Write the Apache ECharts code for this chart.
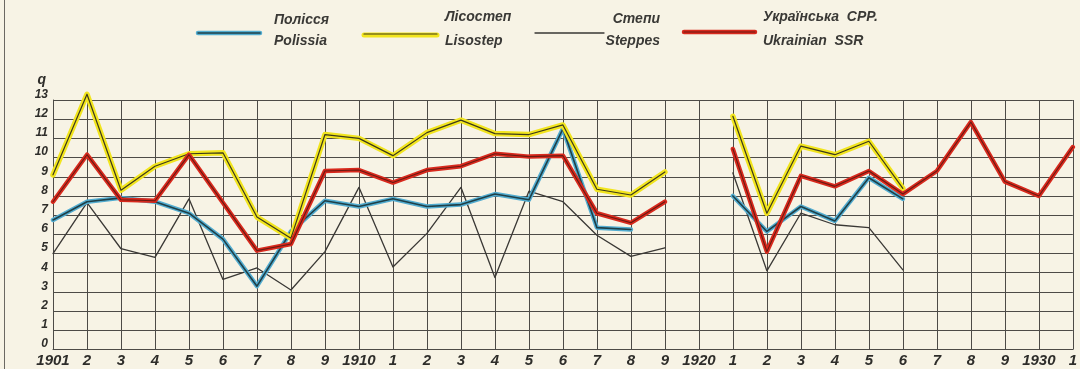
<!DOCTYPE html>
<html>
<head>
<meta charset="utf-8">
<title>Врожайність / Yields, 1901–1931</title>
<script src="https://cdn.jsdelivr.net/npm/echarts@6/dist/echarts.min.js"></script>
<style>
  html, body { margin: 0; padding: 0; background: #f7f3e5; }
  #chart { width: 1080px; height: 369px; }
</style>
</head>
<body>
<div id="chart"></div>
<script>
// Years on the category axis and the short labels printed under them
const years = ['1901','1902','1903','1904','1905','1906','1907','1908','1909','1910',
               '1911','1912','1913','1914','1915','1916','1917','1918','1919','1920',
               '1921','1922','1923','1924','1925','1926','1927','1928','1929','1930','1931'];
const tickLabels = ['1901','2','3','4','5','6','7','8','9','1910',
                    '1','2','3','4','5','6','7','8','9','1920',
                    '1','2','3','4','5','6','7','8','9','1930','1'];

// Yield, q per hectare (null = no data)
const polissia = [6.75, 7.7, 7.9, 7.7, 7.1, 5.75, 3.3, 6.15, 7.75, 7.45,
                  7.85, 7.45, 7.55, 8.1, 7.8, 11.5, 6.35, 6.25, null, null,
                  8.0, 6.15, 7.45, 6.7, 8.95, 7.85, null, null, null, null, null];
const lisostep = [9.1, 13.3, 8.3, 9.55, 10.2, 10.25, 6.9, 5.8, 11.2, 11.0,
                  10.1, 11.3, 11.95, 11.25, 11.2, 11.7, 8.35, 8.05, 9.25, null,
                  12.15, 7.1, 10.6, 10.15, 10.85, 8.4, null, null, null, null, null];
const steppes  = [5.0, 7.65, 5.25, 4.8, 7.85, 3.65, 4.25, 3.1, 5.1, 8.45,
                  4.3, 6.05, 8.45, 3.75, 8.25, 7.7, 5.95, 4.85, 5.3, null,
                  9.2, 4.1, 7.1, 6.5, 6.35, 4.15, null, null, null, null, null];
const ukrSSR   = [7.7, 10.15, 7.8, 7.75, 10.15, 7.65, 5.15, 5.5, 9.3, 9.35,
                  8.7, 9.35, 9.55, 10.2, 10.05, 10.1, 7.1, 6.6, 7.7, null,
                  10.45, 5.1, 9.05, 8.5, 9.3, 8.1, 9.3, 11.85, 8.75, 8.0, 10.55];

const INK = '#2e2d2a';
const GRIDC = '#4d4b47';
const YELLOW = '#f2e51e';
const RED = '#d8291d';
const BLUE = '#52acd0';

// colour band of a line, printed under a thin dark stroke
function band(name, data, color, width, z) {
  return {
    name: name, type: 'line', data: data, symbol: 'none', clip: false,
    connectNulls: false, silent: true, z: z,
    lineStyle: { color: color, width: width, join: 'round', cap: 'round' }
  };
}
function stroke(name, data, color, width, z) {
  return {
    name: name, type: 'line', data: data, symbol: 'none', clip: false,
    connectNulls: false, silent: true, z: z,
    lineStyle: { color: color, width: width, join: 'round', cap: 'round' }
  };
}

const legendFont = 'italic bold 14px "Liberation Sans"';
function keyLine(x1, x2, y, color, width, z) {
  return { type: 'line', z: z, shape: { x1: x1, y1: y, x2: x2, y2: y },
           style: { stroke: color, lineWidth: width, lineCap: 'round' } };
}
function keyText(text, x, y, align) {
  return { type: 'text', z: 10, style: { text: text, x: x, y: y, font: legendFont,
           fill: '#3a3936', textAlign: align || 'left', textVerticalAlign: 'middle' } };
}

const chart = echarts.init(document.getElementById('chart'), null, { renderer: 'canvas' });
chart.setOption({
  animation: false,
  backgroundColor: '#f7f3e5',
  grid: { left: 53, right: 4, top: 100, bottom: 19.5, containLabel: false },
  xAxis: {
    type: 'category',
    data: years,
    boundaryGap: false,
    axisLine: { show: true, lineStyle: { color: GRIDC, width: 1 } },
    axisTick: { show: false },
    splitLine: { show: true, lineStyle: { color: GRIDC, width: 1 } },
    axisLabel: {
      interval: 0, margin: 4, color: INK,
      fontFamily: 'Liberation Sans', fontStyle: 'italic', fontWeight: 'bold', fontSize: 15,
      formatter: function (v, i) { return tickLabels[i]; }
    }
  },
  yAxis: {
    type: 'value',
    min: 0, max: 13, interval: 1,
    name: 'q',
    nameLocation: 'end',
    nameGap: 13,
    nameTextStyle: { fontFamily: 'Liberation Sans', fontStyle: 'italic', fontWeight: 'bold',
                     fontSize: 14, color: INK, align: 'right', padding: [0, 7, 0, 0] },
    axisLine: { show: true, lineStyle: { color: GRIDC, width: 1 } },
    axisTick: { show: false },
    splitLine: { show: true, lineStyle: { color: GRIDC, width: 1 } },
    axisLabel: {
      margin: 5, color: INK, verticalAlign: 'bottom', lineHeight: 11,
      fontFamily: 'Liberation Sans', fontStyle: 'italic', fontWeight: 'bold', fontSize: 12
    }
  },
  series: [
    stroke('Steppes', steppes, '#3a3835', 1.3, 3),
    band('Polissia', polissia, BLUE, 4.5, 4),
    stroke('Polissia', polissia, '#1f4048', 1.6, 5),
    band('Lisostep', lisostep, YELLOW, 5.5, 6),
    stroke('Lisostep', lisostep, '#3d3a1a', 1.2, 7),
    band('Ukrainian SSR', ukrSSR, RED, 4.5, 8),
    stroke('Ukrainian SSR', ukrSSR, '#6a1a12', 1.1, 9)
  ],
  graphic: [
    // page border on the left
    { type: 'line', z: 1, shape: { x1: 4.5, y1: 0, x2: 4.5, y2: 369 },
      style: { stroke: '#6b6862', lineWidth: 1 } },
    // key: Polissia
    keyLine(198, 260, 33, BLUE, 4.5, 8), keyLine(198, 260, 33, '#1f4048', 1.6, 9),
    keyText('Полісся', 274, 20), keyText('Polissia', 274, 41),
    // key: Lisostep
    keyLine(364, 437, 35, YELLOW, 5, 8), keyLine(364, 437, 34, '#3d3a1a', 1.2, 9),
    keyText('Лісостеп', 445, 17), keyText('Lisostep', 445, 41),
    // key: Steppes
    keyLine(535, 604, 33, '#3a3835', 1.3, 9),
    keyText('Степи', 660, 19, 'right'), keyText('Steppes', 660, 41, 'right'),
    // key: Ukrainian SSR
    keyLine(684, 755, 32, RED, 4.5, 8), keyLine(684, 755, 32, '#6a1a12', 1.1, 9),
    keyText('Українська  СРР.', 763, 17), keyText('Ukrainian  SSR', 763, 41)
  ]
});
</script>
</body>
</html>
